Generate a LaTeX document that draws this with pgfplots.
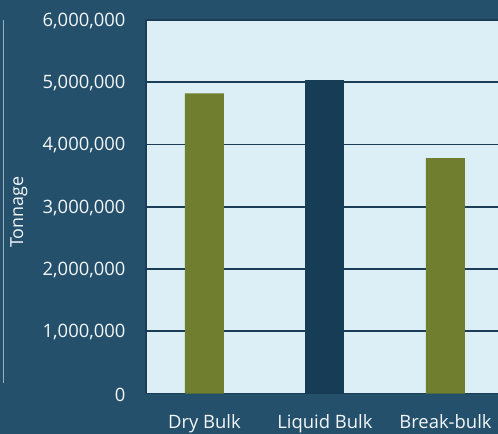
\documentclass[border=0pt]{standalone}
\usepackage{pgfplots}
\pgfplotsset{compat=1.18}
\usepackage{fontspec}
\setmainfont{Open Sans}
\definecolor{bg}{HTML}{25506B}
\definecolor{plotbg}{HTML}{DCEEF6}
\definecolor{gridc}{HTML}{1B3D57}
\definecolor{olive}{HTML}{6F7F2F}
\definecolor{navy}{HTML}{163C56}
\definecolor{txt}{HTML}{F2F6F8}
\begin{document}
\begin{tikzpicture}
\useasboundingbox (0,0) rectangle (498bp,434bp);
\fill[bg] (0,0) rectangle (498bp,434bp);
\draw[color=white!55!bg, line width=0.8bp] (3bp,51bp) -- (3bp,414bp);
\node[rotate=90, text=txt, font=\fontsize{18}{21}\selectfont, anchor=center] at (19bp,222bp) {Tonnage};
\begin{axis}[
  at={(146bp,40.5bp)}, anchor=south west,
  scale only axis, width=352bp, height=373.5bp,
  xmin=-0.485, xmax=2.436,
  ymin=0, ymax=6000000,
  scaled y ticks=false,
  ytick={0,1000000,2000000,3000000,4000000,5000000,6000000},
  yticklabels={0,{1,000,000},{2,000,000},{3,000,000},{4,000,000},{5,000,000},{6,000,000}},
  xtick={0,1,2},
  xticklabels={Dry Bulk,Liquid Bulk,Break-bulk},
  major tick length=0pt,
  tick label style={font=\fontsize{18.5}{22}\selectfont, text=txt},
  yticklabel style={xshift=-17bp, yshift=-1bp},
  xticklabel style={yshift=-17bp},
  axis background/.style={fill=plotbg},
  axis line style={draw=gridc, line width=1.8bp},
  axis x line*=bottom, axis y line*=left,
  ymajorgrids,
  grid style={draw=gridc, line width=1.6bp},
  ybar, bar width=39bp, bar shift=0pt,
  clip=false,
]
\addplot[fill=olive, draw=none] coordinates {(0,4820000) (2,3780000)};
\addplot[fill=navy, draw=none] coordinates {(1,5030000)};
\end{axis}
\end{tikzpicture}
\end{document}
